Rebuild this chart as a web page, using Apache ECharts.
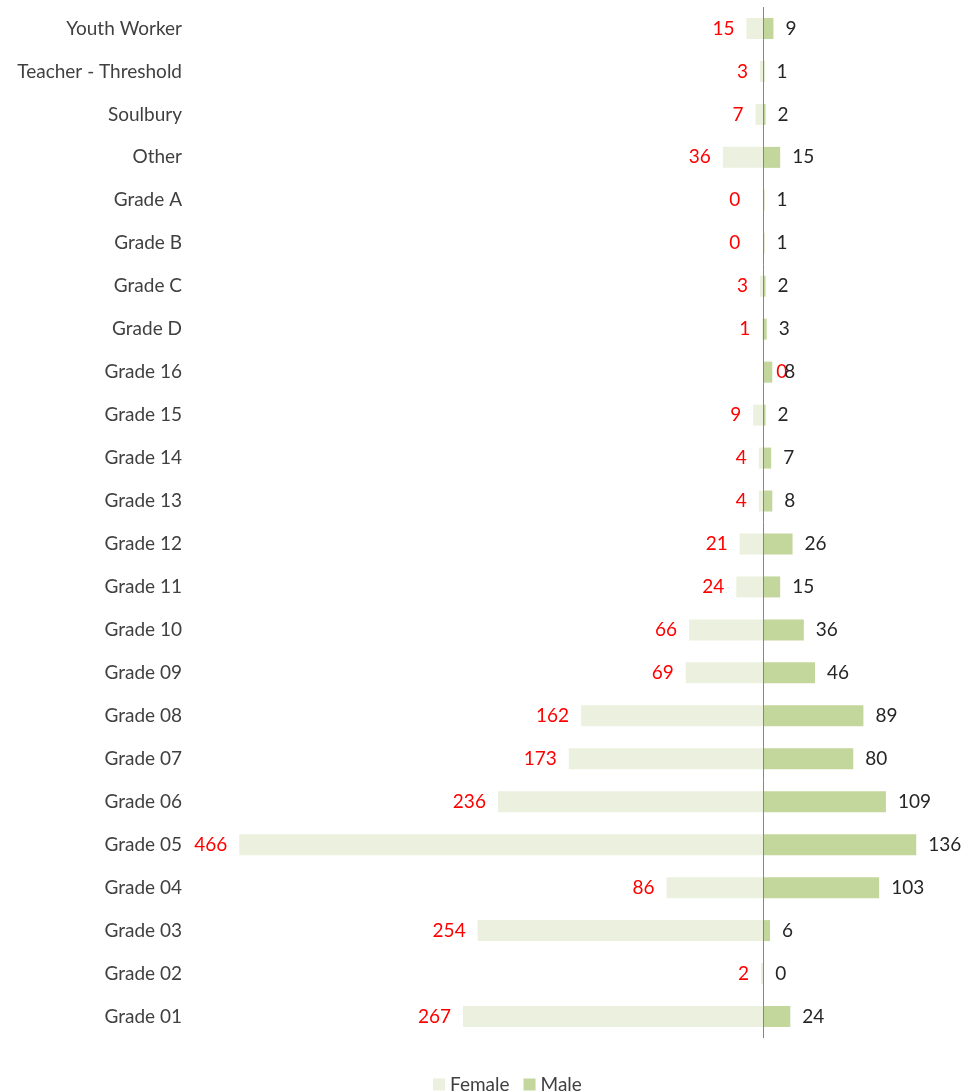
<!DOCTYPE html>
<html>
<head>
<meta charset="utf-8">
<script src="https://cdn.jsdelivr.net/npm/echarts@6/dist/echarts.min.js"></script>
<style>
  html, body { margin: 0; padding: 0; background: #fff; }
  #chart1 { width: 964px; height: 1092px; }
</style>
</head>
<body>
<div id="chart1"></div>
<script>
// bottom to top, as in the category axis
var categories = ['Grade 01', 'Grade 02', 'Grade 03', 'Grade 04', 'Grade 05', 'Grade 06',
    'Grade 07', 'Grade 08', 'Grade 09', 'Grade 10', 'Grade 11', 'Grade 12', 'Grade 13',
    'Grade 14', 'Grade 15', 'Grade 16', 'Grade D', 'Grade C', 'Grade B', 'Grade A',
    'Other', 'Soulbury', 'Teacher - Threshold', 'Youth Worker'];
var female = [267, 2, 254, 86, 466, 236, 173, 162, 69, 66, 24, 21, 4, 4, 9, 0, 1, 3, 0, 0, 36, 7, 3, 15];
var male = [24, 0, 6, 103, 136, 109, 80, 89, 46, 36, 15, 26, 8, 7, 2, 8, 3, 2, 1, 1, 15, 2, 1, 9];

var font = 'Lato, "Open Sans", sans-serif';

var femaleData = female.map(function (v, i) {
    var item = {value: -v};
    if (v === 0) {
        // Excel put the zero labels a bit further out; Grade 16 one ended up on the right
        item.label = categories[i] === 'Grade 16' ? {position: 'right', distance: 13} : {offset: [-11, 0]};
    }
    return item;
});

var myChart = echarts.init(document.getElementById('chart1'));
var option = {
    animation: false,
    textStyle: {fontFamily: font},
    grid: {left: 201, right: 32, top: 7, bottom: 54},
    legend: {
        left: 428,
        top: 1070,
        itemWidth: 12,
        itemHeight: 12,
        itemGap: 14,
        icon: 'rect',
        textStyle: {fontFamily: font, fontSize: 19, color: '#404040'},
        data: ['Female', 'Male']
    },
    xAxis: {
        type: 'value',
        min: -500,
        max: 150,
        show: false
    },
    yAxis: {
        type: 'category',
        data: categories,
        axisLine: {show: false},
        axisTick: {show: false},
        axisLabel: {fontFamily: font, fontSize: 19, color: '#404040', margin: 19}
    },
    series: [
        {
            name: 'Female',
            type: 'bar',
            data: femaleData,
            barWidth: 21,
            barGap: '-100%',
            itemStyle: {color: '#EBF1DE'},
            label: {
                show: true,
                position: 'left',
                distance: 12,
                fontFamily: font,
                fontSize: 19,
                color: '#FF0000',
                formatter: function (p) { return Math.abs(p.value); }
            },
            markLine: {
                silent: true,
                symbol: 'none',
                label: {show: false},
                lineStyle: {color: '#868686', width: 1, type: 'solid'},
                data: [{xAxis: 0}]
            }
        },
        {
            name: 'Male',
            type: 'bar',
            data: male,
            barWidth: 21,
            barGap: '-100%',
            itemStyle: {color: '#C3D69B'},
            label: {
                show: true,
                position: 'right',
                distance: 12,
                fontFamily: font,
                fontSize: 19,
                color: '#262626'
            }
        }
    ]
};
myChart.setOption(option);
</script>
</body>
</html>
